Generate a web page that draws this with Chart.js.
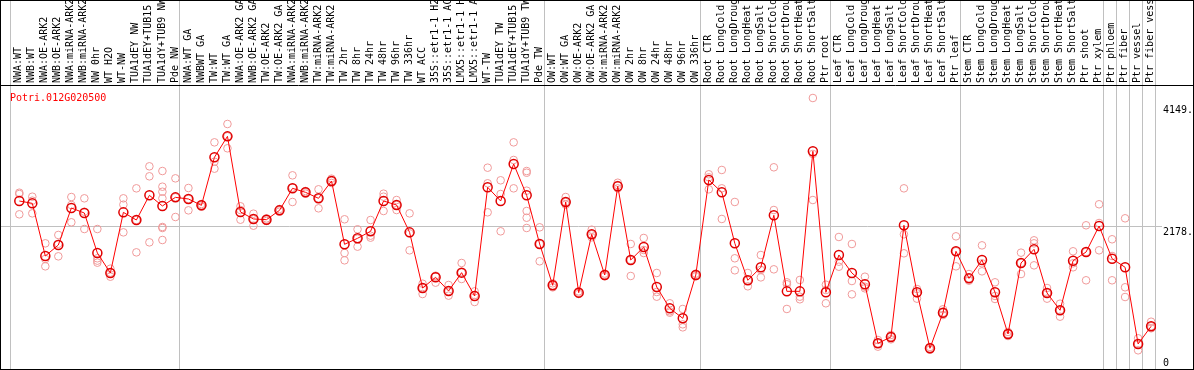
<!DOCTYPE html>
<html><head><meta charset="utf-8">
<script src="https://cdn.jsdelivr.net/npm/chart.js@4/dist/chart.umd.min.js"></script>
<style>html,body{margin:0;padding:0;background:#fff;} canvas{display:block;}</style>
</head><body>
<canvas id="c" width="1194" height="370"></canvas>
<script>
const geneTitle = 'Potri.012G020500';

const categories = [
  'NWA:WT','NWB:WT','NWA:OE-ARK2','NWB:OE-ARK2','NWA:miRNA-ARK2','NWB:miRNA-ARK2','NW 0hr','WT H2O','WT-NW',
  'TUA1dEY NW','TUA1dEY+TUB15 NW','TUA1dY+TUB9 NW','Pde NW',
  'NWA:WT GA','NWBWT GA','TW:WT','TW:WT GA','NWA:OE-ARK2 GA','NWB:OE-ARK2 GA','TW:OE-ARK2','TW:OE-ARK2 GA',
  'NWA:miRNA-ARK2 GA','NWB:miRNA-ARK2 GA','TW:miRNA-ARK2','TW:miRNA-ARK2 GA',
  'TW 2hr','TW 8hr','TW 24hr','TW 48hr','TW 96hr','TW 336hr','WT ACC',
  '35S::etr1-1 H2O','35S::etr1-1 ACC','LMX5::etr1-1 H2O','LMX5::etr1-1 ACC',
  'WT-TW','TUA1dEY TW','TUA1dEY+TUB15 TW','TUA1dY+TUB9 TW','Pde TW',
  'OW:WT','OW:WT GA','OW:OE-ARK2','OW:OE-ARK2 GA','OW:miRNA-ARK2','OW:miRNA-ARK2 GA',
  'OW 2hr','OW 8hr','OW 24hr','OW 48hr','OW 96hr','OW 336hr',
  'Root CTR','Root LongCold','Root LongDrought','Root LongHeat','Root LongSalt',
  'Root ShortCold','Root ShortDrought','Root ShortHeat','Root ShortSalt','Ptr root',
  'Leaf CTR','Leaf LongCold','Leaf LongDrought','Leaf LongHeat','Leaf LongSalt',
  'Leaf ShortCold','Leaf ShortDrought','Leaf ShortHeat','Leaf ShortSalt','Ptr leaf',
  'Stem CTR','Stem LongCold','Stem LongDrought','Stem LongHeat','Stem LongSalt',
  'Stem ShortCold','Stem ShortDrought','Stem ShortHeat','Stem ShortSalt','Ptr shoot',
  'Ptr xylem','Ptr phloem','Ptr fiber','Ptr vessel','Ptr fiber vessel'
];

const meanValues = [
  2572,2536,1730,1898,2465,2388,1776,1470,2398,2281,2659,2496,2628,
  2603,2506,3241,3562,2404,2297,2286,2429,2766,2705,2613,2878,
  1909,2001,2108,2572,2511,2092,1240,1404,1194,1475,1118,2782,2572,3139,2659,1914,
  1281,2557,1169,2062,1439,2797,1669,1868,1255,929,776,1439,
  2894,2705,1924,1358,1557,2353,1189,1189,3333,1174,
  1745,1470,1297,393,490,2200,1174,317,862,1802,
  1388,1669,1174,536,1623,1832,1164,899,1658,1791,2189,
  1689,1557,383,654
];

const replicateValues = [
  [2699,2679,2368],[2638,2577,2383],[1924,1684,1572],[2052,1917,1725],[2633,2511,2246],
  [2613,2408,2143],[2143,1695,1659,1628],[1536,1475,1413],[2613,2516,2092],[2766,2281,1786],
  [3103,2950,1939],[3031,2791,2714,2613,2174,2159,1975],[2919,2628,2327],
  [2771,2603,2429],[2526,2506,2485],[3470,3174,3067],[3751,3562,3379],[2491,2434,2286],
  [2378,2297,2194],[2306,2286,2266],[2450,2429,2408],[2965,2776,2557],[2725,2705,2684],
  [2751,2613,2460],[2914,2878,2848],[2292,1776,1664],[2139,1995,1873],[2281,2041,2011],
  [2684,2638,2419],[2587,2511,2434],[2383,2077,1817],[1306,1240,1148],[1429,1414,1322],
  [1286,1194,1123],[1623,1475,1378],[1189,1133,1026],[3082,2843,2399],[2889,2679,2108],
  [3470,3200,2766],[3031,3005,2730,2419,2316,2159],[2169,1914,1649],
  [1312,1281,1250],[2633,2557,2516],[1189,1169,1148],[2133,2062,2016],[1460,1439,1419],
  [2852,2817,2766],[1914,1669,1424],[2006,1822,1776],[1470,1179,1107],[1006,883,862],
  [919,684,638],[1460,1439,1419],
  [2981,2935,2751],[3047,2766,2297],[2557,1695,1511],[1470,1358,1266],[1745,1516,1403],
  [3088,2434,1526],[1327,1297,919],[1363,1107,1067],[4149,3292,2587],[1291,1209,1006],
  [2021,1643,1566],[1914,1347,1143],[1413,1260,1235],[444,393,342],[521,490,454],
  [2766,2062,1771],[1225,1159,1077],[337,317,296],[914,862,826],[2031,1802,1572],
  [1454,1388,1352],[1893,1618,1495],[1327,1118,1072],[567,536,505],[1781,1623,1454],
  [1970,1924,1587],[1240,1164,1077],[1000,899,801],[1802,1618,1557],[2200,1791,1358],
  [2522,2235,1817],[1986,1730,1358],[2307,1251,1102],[470,383,286],[724,654,623]
];

// first category index of every group (last entry closes the final group)
const groupStarts = [0, 13, 41, 53, 63, 73, 84, 85, 86, 87, 88];
const yTickValues = [0, 2178, 4149];
const yTickLabels = ['0', '2178.', '4149.'];
const yAxisMax = 4348;

Chart.defaults.font.family = '"DejaVu Sans Mono", monospace';
Chart.defaults.font.size = 10;
Chart.defaults.color = '#000';

const sepValues = groupStarts.map(i => i - 0.65);
const isSep = v => !Number.isInteger(v);
const sepColor = c => (c.tick && isSep(c.tick.value)) ? '#c0c0c0' : 'rgba(0,0,0,0)';
const midColor = c => (c.tick && c.tick.value === yTickValues[1]) ? '#c0c0c0' : 'rgba(0,0,0,0)';

const framePlugin = {
  id: 'frame',
  afterDraw(chart) {
    const ctx = chart.ctx;
    ctx.save();
    ctx.strokeStyle = '#000';
    ctx.lineWidth = 1;
    ctx.strokeRect(0.5, 0.5, chart.width - 1, chart.height - 1);
    ctx.beginPath();
    ctx.moveTo(0, chart.chartArea.top + 0.5);
    ctx.lineTo(chart.width, chart.chartArea.top + 0.5);
    ctx.stroke();
    ctx.fillStyle = '#ff0000';
    ctx.font = '10px "DejaVu Sans Mono", monospace';
    ctx.textBaseline = 'alphabetic';
    ctx.fillText(geneTitle, chart.chartArea.left + 9, chart.chartArea.top + 16);
    ctx.restore();
  }
};

new Chart(document.getElementById('c'), {
  type: 'scatter',
  data: {
    datasets: [
      {
        label: 'mean',
        data: meanValues.map((v, i) => ({ x: i, y: v })),
        showLine: true,
        borderColor: '#ff0000',
        borderWidth: 1,
        pointRadius: 4.5,
        pointBorderWidth: 1.5,
        pointBorderColor: '#e00000',
        pointBackgroundColor: 'rgba(0,0,0,0)',
        order: 0
      },
      {
        label: 'replicates',
        data: replicateValues.flatMap((arr, i) => arr.map(v => ({ x: i, y: v }))),
        showLine: false,
        pointRadius: 3.8,
        pointBorderWidth: 1,
        pointBorderColor: '#f09a9a',
        pointBackgroundColor: 'rgba(0,0,0,0)',
        order: 1
      }
    ]
  },
  options: {
    responsive: false,
    animation: false,
    devicePixelRatio: 1,
    layout: { autoPadding: false, padding: { left: 1, right: 0, top: 0, bottom: 1 } },
    plugins: { legend: { display: false }, tooltip: { enabled: false }, title: { display: false } },
    scales: {
      x: {
        type: 'linear', position: 'top', min: -1.407, max: 87.375,
        afterBuildTicks: s => {
          s.ticks = [...sepValues, ...categories.map((_, i) => i)].sort((a, b) => a - b).map(v => ({ value: v }));
        },
        afterFit: s => { s.height = 85; s.paddingLeft = 0; s.paddingRight = 0; },
        grid: { drawOnChartArea: true, drawTicks: true, tickLength: 85, color: sepColor, tickColor: sepColor, lineWidth: 1 },
        border: { display: false },
        ticks: {
          autoSkip: false, minRotation: 90, maxRotation: 90, padding: -83, labelOffset: 11.5, color: '#000',
          font: { size: 10 },
          callback: v => Number.isInteger(v) ? categories[v] : ''
        }
      },
      y: {
        type: 'linear', position: 'right', min: 0, max: yAxisMax,
        afterBuildTicks: s => { s.ticks = yTickValues.map(v => ({ value: v })); },
        afterFit: s => { s.width = 38; s.paddingTop = 0; s.paddingBottom = 0; },
        grid: { color: midColor, tickColor: midColor, tickLength: 6, lineWidth: 1 },
        border: { display: false },
        ticks: {
          padding: 1, color: '#000', font: { size: 10, lineHeight: 1.2 },
          callback: v => {
            const k = yTickValues.indexOf(v);
            const t = yTickLabels[k];
            if (k === 0) return [t, ''];
            if (k === 1) return ['', t];
            return ['', '', t];
          }
        }
      }
    }
  },
  plugins: [framePlugin]
});
</script>
</body></html>
